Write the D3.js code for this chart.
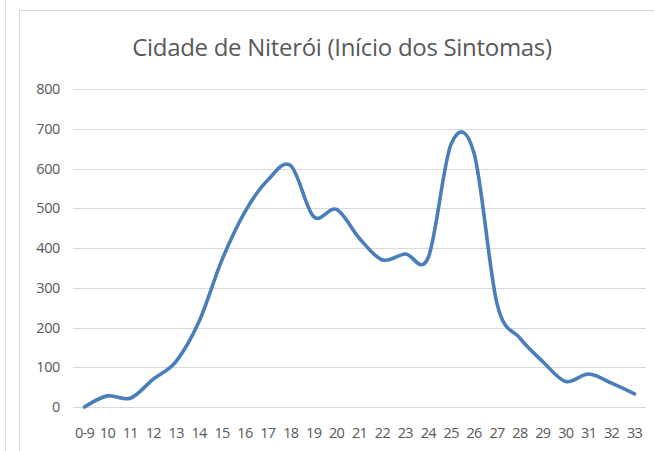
<!DOCTYPE html>
<html>
<head>
<meta charset="utf-8">
<script src="https://cdn.jsdelivr.net/npm/d3@7"></script>
<style>
  html, body { margin: 0; padding: 0; background: #fff; }
  svg { display: block; }
</style>
</head>
<body>
<svg id="chart" width="654" height="451"></svg>
<script>
const categories = ["0-9","10","11","12","13","14","15","16","17","18","19","20","21","22","23","24","25","26","27","28","29","30","31","32","33"];
const values = [0, 28, 22, 70, 115, 215, 370, 491, 571, 607, 479, 497, 424, 370, 385, 376, 662, 638, 260, 173, 114, 64, 83, 60, 33];
const yTicks = [0, 100, 200, 300, 400, 500, 600, 700, 800];
const title = "Cidade de Niterói (Início dos Sintomas)";

(function () {
const svg = d3.select("#chart");
const W = 654, H = 451;
const font = "'Open Sans', 'Liberation Sans', sans-serif";
const pLeft = 73, pRight = 646, pTop = 89, pBottom = 407;

// frame lines
svg.append("line").attr("x1", 5.5).attr("x2", 5.5).attr("y1", 0).attr("y2", H)
  .attr("stroke", "#d9d9d9").attr("stroke-width", 1);
svg.append("path").attr("d", `M19.5,${H} V10.5 H${W}`)
  .attr("fill", "none").attr("stroke", "#d9d9d9").attr("stroke-width", 1);

const x = d3.scaleBand().domain(categories).range([pLeft, pRight]).padding(0);
const y = d3.scaleLinear().domain([0, 800]).range([pBottom, pTop]);

// gridlines
svg.append("g").selectAll("line").data(yTicks).join("line")
  .attr("x1", pLeft).attr("x2", pRight)
  .attr("y1", d => Math.round(y(d)) + 0.5).attr("y2", d => Math.round(y(d)) + 0.5)
  .attr("stroke", "#d9d9d9").attr("stroke-width", 1);

// y axis labels
const yAxis = d3.axisLeft(y).tickValues(yTicks).tickSize(0).tickPadding(0);
const gy = svg.append("g").attr("transform", `translate(60,0)`).call(yAxis);
gy.select(".domain").remove();
gy.selectAll("text").attr("fill", "#595959").style("font-family", font).style("font-size", "14.5px")
  .attr("letter-spacing", "-0.4px");

// x axis labels
const xAxis = d3.axisBottom(x).tickSize(0).tickPadding(0);
const gx = svg.append("g").attr("transform", `translate(0,${pBottom + 21})`).call(xAxis);
gx.select(".domain").remove();
gx.selectAll("text").attr("fill", "#595959").style("font-family", font).style("font-size", "14.5px")
  .attr("letter-spacing", "-0.7px");

// line
const line = d3.line()
  .x((d, i) => x(categories[i]) + x.bandwidth() / 2)
  .y(d => y(d))
  .curve(d3.curveCatmullRom.alpha(0));
svg.append("path").datum(values)
  .attr("d", line)
  .attr("fill", "none")
  .attr("stroke", "#4a7ebb")
  .attr("stroke-width", 3.6)
  .attr("stroke-linejoin", "round")
  .attr("stroke-linecap", "round");

// title
svg.append("text").attr("x", 342).attr("y", 56)
  .attr("text-anchor", "middle")
  .attr("fill", "#595959")
  .attr("letter-spacing", "-0.3px")
  .style("font-family", font).style("font-size", "24px")
  .text(title);
})();
</script>
</body>
</html>
